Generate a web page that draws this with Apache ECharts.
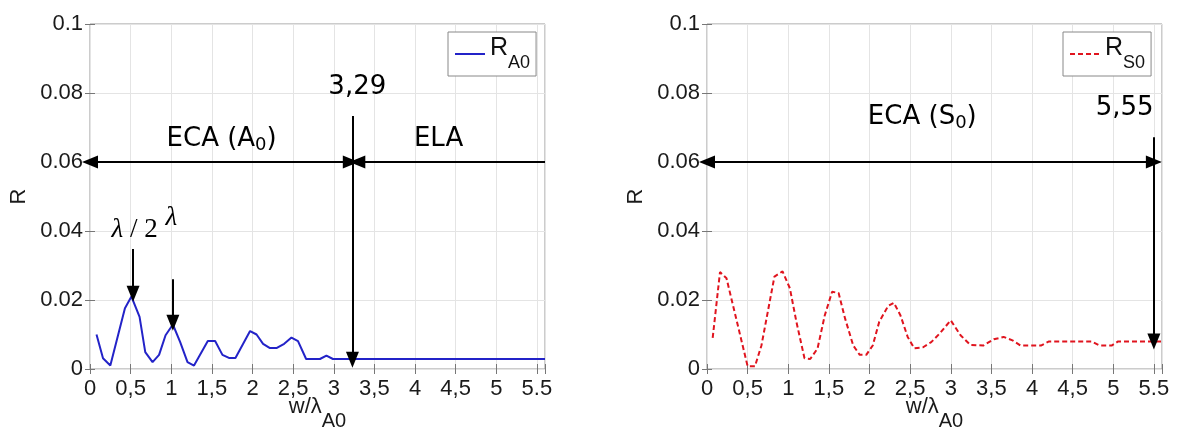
<!DOCTYPE html>
<html>
<head>
<meta charset="utf-8">
<script src="https://cdn.jsdelivr.net/npm/echarts@6/dist/echarts.min.js"></script>
<style>
html,body{margin:0;padding:0;background:#fff;}
#chart{width:1179px;height:432px;}
</style>
</head>
<body>
<div id="chart"></div>
<script>
// ---- data ----
const xTickLabels = ['0','0,5','1','1,5','2','2,5','3','3,5','4','4,5','5','5.5'];
const yTickLabels = ['0','0.02','0.04','0.06','0.08','0.1'];

const xA0 = [0.08,0.16,0.25,0.43,0.51,0.61,0.68,0.77,0.85,0.93,1.02,1.11,1.20,1.28,1.45,1.54,1.63,1.71,1.79,1.97,2.05,2.13,2.21,2.30,2.39,2.48,2.56,2.66,2.83,2.91,2.99,5.60];
const yA0 = [0.0100,0.0031,0.0010,0.0176,0.0210,0.0151,0.0049,0.0020,0.0041,0.0098,0.0129,0.0078,0.0020,0.0010,0.0081,0.0081,0.0041,0.0032,0.0032,0.0110,0.0100,0.0073,0.0061,0.0061,0.0073,0.0091,0.0081,0.0029,0.0029,0.0039,0.0029,0.0029];

const xS0 = [0.07,0.16,0.24,0.50,0.59,0.67,0.83,0.93,1.02,1.10,1.20,1.27,1.36,1.45,1.54,1.62,1.70,1.80,1.88,1.96,2.04,2.12,2.23,2.30,2.38,2.47,2.55,2.66,2.76,2.86,3.00,3.12,3.24,3.40,3.53,3.65,3.76,3.86,4.11,4.21,4.73,4.83,4.98,5.06,5.60];
const yS0 = [0.0090,0.0281,0.0263,0.0008,0.0008,0.0068,0.0268,0.0283,0.0234,0.0137,0.0031,0.0029,0.0059,0.0156,0.0224,0.0220,0.0146,0.0068,0.0041,0.0041,0.0068,0.0137,0.0183,0.0192,0.0156,0.0093,0.0060,0.0063,0.0078,0.0102,0.0141,0.0098,0.0070,0.0068,0.0086,0.0093,0.0083,0.0068,0.0068,0.0080,0.0080,0.0068,0.0068,0.0080,0.0080];

// annotation arrows (data units): [x1,y1,x2,y2,startHead,endHead]
const arrowsA0 = [
  [0, 0.06, 3.21, 0.06, true, true],
  [3.29, 0.06, 5.6, 0.06, true, false],
  [3.23, 0.0733, 3.23, 0.0027, false, true],
  [0.53, 0.0348, 0.53, 0.0218, false, true],
  [1.02, 0.0260, 1.02, 0.0134, false, true]
];
const arrowsS0 = [
  [0, 0.06, 5.5, 0.06, true, true],
  [5.5, 0.0672, 5.5, 0.0080, false, true]
];
// annotation texts: [x, y, rich text]
const textsA0 = [
  [3.29, 0.0817, '{t|3,29}'],
  [1.62, 0.0665, '{t|ECA (A}{u|0}{t|)}'],
  [4.29, 0.0665, '{t|ELA}'],
  [0.55, 0.0404, '{l|λ}{m| / 2}'],
  [1.00, 0.0439, '{l|λ}']
];
const textsS0 = [
  [2.65, 0.0730, '{t|ECA (S}{u|0}{t|)}'],
  [5.14, 0.0757, '{t|5,55}']
];

// ---- helpers ----
function xFmt(v){ const i = Math.round(v/0.5); return Math.abs(v-i*0.5)<1e-6 && i < xTickLabels.length ? xTickLabels[i] : ''; }
function yFmt(v){ const i = Math.round(v/0.02); return Math.abs(v-i*0.02)<1e-9 && i < yTickLabels.length ? yTickLabels[i] : ''; }

const tickStyle = {inside:true, length:5, lineStyle:{color:'#777'}};
const gridLine = {show:true, lineStyle:{color:'#e4e4e4', width:1}};
const labelFont = {fontFamily:'Liberation Sans', fontSize:22, color:'#1a1a1a'};

function xAxes(g){
  return [
    {gridIndex:g, type:'value', min:0, max:5.6, interval:0.5, position:'bottom',
     axisLine:{show:false}, axisTick:tickStyle, splitLine:gridLine,
     axisLabel:Object.assign({formatter:xFmt, margin:9, showMaxLabel:true}, labelFont),
     name:'{a|w/λ}{b|A0}', nameLocation:'middle', nameGap:27, nameMoveOverlap:false,
     nameTextStyle:{rich:{
       a:{fontFamily:'Liberation Sans', fontSize:22, color:'#1a1a1a', lineHeight:24, verticalAlign:'top'},
       b:{fontFamily:'Liberation Sans', fontSize:20, color:'#1a1a1a', lineHeight:35, verticalAlign:'bottom'}
     }}},
    {gridIndex:g, type:'value', min:0, max:5.6, interval:0.5, position:'top',
     axisLine:{show:false}, axisTick:tickStyle, splitLine:{show:false}, axisLabel:{show:false}}
  ];
}
function yAxes(g){
  return [
    {gridIndex:g, type:'value', min:0, max:0.1, interval:0.02, position:'left',
     axisLine:{show:false}, axisTick:tickStyle, splitLine:gridLine,
     axisLabel:Object.assign({formatter:yFmt, margin:7}, labelFont),
     name:'R', nameLocation:'middle', nameGap:60, nameMoveOverlap:false,
     nameTextStyle:{fontFamily:'Liberation Sans', fontSize:22, color:'#1a1a1a'}},
    {gridIndex:g, type:'value', min:0, max:0.1, interval:0.02, position:'right',
     axisLine:{show:false}, axisTick:tickStyle, splitLine:{show:false}, axisLabel:{show:false}}
  ];
}

function markLines(arr){
  return {
    silent:true, animation:false,
    symbolSize:[13,16],
    lineStyle:{color:'#000', width:2, type:'solid'},
    label:{show:false}, emphasis:{disabled:true},
    data: arr.map(a => [
      {coord:[a[0],a[1]], symbol: a[4] ? 'triangle' : 'none'},
      {coord:[a[2],a[3]], symbol: a[5] ? 'triangle' : 'none'}
    ])
  };
}
const textRich = {
  t:{fontFamily:'DejaVu Sans', fontSize:26, color:'#000', lineHeight:30},
  u:{fontFamily:'DejaVu Sans', fontSize:18, color:'#000', lineHeight:18, padding:[10,0,0,0], verticalAlign:'bottom'},
  l:{fontFamily:'Liberation Serif', fontStyle:'italic', fontSize:27, color:'#000', lineHeight:30},
  m:{fontFamily:'Liberation Serif', fontSize:27, color:'#000', lineHeight:30}
};
function textSeries(arr, xi, yi){
  return {
    type:'scatter', xAxisIndex:xi, yAxisIndex:yi, symbolSize:0, silent:true,
    itemStyle:{opacity:1},
    data: arr.map(a => ({value:[a[0],a[1]], label:{show:true, position:'inside', formatter:a[2], rich:textRich,
      color:'#000', textBorderWidth:0, opacity:1}})),
    z:10
  };
}

const legendRich = {
  r:{fontFamily:'Liberation Sans', fontSize:25, color:'#111', lineHeight:28, verticalAlign:'top'},
  s:{fontFamily:'Liberation Sans', fontSize:18, color:'#111', lineHeight:36, verticalAlign:'bottom'}
};

const option = {
  animation:false,
  backgroundColor:'#fff',
  grid:[
    {left:90, top:24, width:455, height:345, show:true, borderColor:'#999', borderWidth:1, backgroundColor:'transparent', outerBoundsMode:'none', containLabel:false},
    {left:707, top:24, width:455, height:345, show:true, borderColor:'#999', borderWidth:1, backgroundColor:'transparent', outerBoundsMode:'none', containLabel:false}
  ],
  xAxis: xAxes(0).concat(xAxes(1)),
  yAxis: yAxes(0).concat(yAxes(1)),
  legend:[
    {data:['RA0'], left:448, top:32, orient:'vertical', itemWidth:30, itemHeight:14,
     backgroundColor:'#fff', borderColor:'#888', borderWidth:1, padding:[4,6,4,6], borderRadius:0,
     itemStyle:{color:'transparent', borderWidth:0},
     formatter:()=>'{r|R}{s|A0}', textStyle:{rich:legendRich}, selectedMode:false},
    {data:['RS0'], left:1063, top:32, orient:'vertical', itemWidth:30, itemHeight:14,
     backgroundColor:'#fff', borderColor:'#888', borderWidth:1, padding:[4,6,4,6], borderRadius:0,
     itemStyle:{color:'transparent', borderWidth:0},
     formatter:()=>'{r|R}{s|S0}', textStyle:{rich:legendRich}, selectedMode:false}
  ],
  series:[
    {name:'RA0', type:'line', xAxisIndex:0, yAxisIndex:0, symbol:'none',
     lineStyle:{color:'#2323c8', width:2}, itemStyle:{color:'#2323c8'},
     data: xA0.map((x,i)=>[x, yA0[i]]), markLine: markLines(arrowsA0), z:3},
    {name:'RS0', type:'line', xAxisIndex:2, yAxisIndex:2, symbol:'none',
     lineStyle:{color:'#e0141e', width:2, type:[5,3]}, itemStyle:{color:'#e0141e'},
     data: xS0.map((x,i)=>[x, yS0[i]]), markLine: markLines(arrowsS0), z:3},
    textSeries(textsA0, 0, 0),
    textSeries(textsS0, 2, 2)
  ]
};
const chart = echarts.init(document.getElementById('chart'), null, {renderer:'canvas'});
chart.setOption(option);
</script>
</body>
</html>
